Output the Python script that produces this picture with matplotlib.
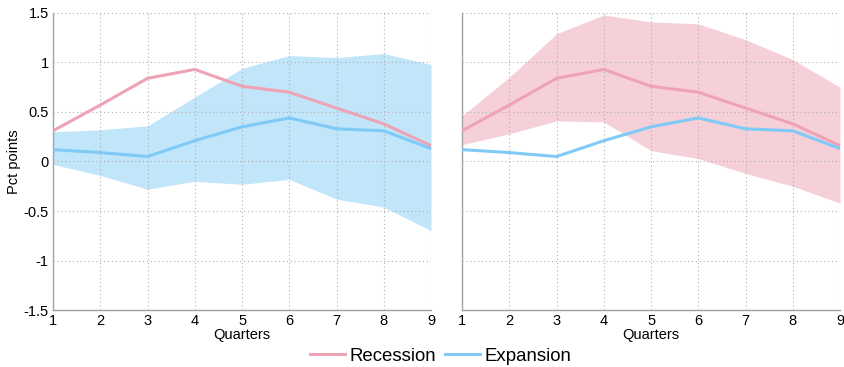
import matplotlib
matplotlib.use("Agg")
import matplotlib.pyplot as plt

plt.rcParams['font.family'] = ['Liberation Sans', 'DejaVu Sans']

quarters = [1, 2, 3, 4, 5, 6, 7, 8, 9]
recession = [0.31, 0.57, 0.84, 0.93, 0.76, 0.70, 0.54, 0.38, 0.16]
expansion = [0.12, 0.09, 0.05, 0.21, 0.35, 0.44, 0.33, 0.31, 0.13]
exp_upper = [0.30, 0.32, 0.36, 0.65, 0.94, 1.07, 1.05, 1.09, 0.98]
exp_lower = [-0.03, -0.14, -0.28, -0.20, -0.23, -0.18, -0.38, -0.46, -0.70]
rec_upper = [0.46, 0.85, 1.29, 1.48, 1.41, 1.39, 1.23, 1.03, 0.75]
rec_lower = [0.17, 0.28, 0.41, 0.40, 0.11, 0.03, -0.12, -0.25, -0.42]
yticks = [-1.5, -1, -0.5, 0, 0.5, 1, 1.5]
ytick_labels = ['-1.5', '-1', '-0.5', '0', '0.5', '1', '1.5']

rec_col = '#eea3b5'
exp_col = '#7fcaf6'
rec_band = '#f5d0d9'
exp_band = '#c1e5f9'

fig = plt.figure(figsize=(8.44, 3.67), dpi=100)
ax1 = fig.add_axes([0.0628, 0.1553, 0.4479, 0.8093])
ax2 = fig.add_axes([0.5474, 0.1553, 0.4479, 0.8093])

for ax, band in ((ax1, 'exp'), (ax2, 'rec')):
    if band == 'exp':
        ax.fill_between(quarters, exp_lower, exp_upper, color=exp_band, lw=0, zorder=1)
    else:
        ax.fill_between(quarters, rec_lower, rec_upper, color=rec_band, lw=0, zorder=1)
    ax.plot(quarters, recession, color=rec_col, lw=2.2, zorder=3, label='Recession')
    ax.plot(quarters, expansion, color=exp_col, lw=2.2, zorder=3, label='Expansion')
    ax.set_xlim(1, 9)
    ax.set_ylim(-1.5, 1.5)
    ax.set_xticks(quarters)
    ax.set_yticks(yticks)
    ax.grid(True, linestyle=(0, (1, 2.5)), color='#b0b0b0', lw=0.8, zorder=2)
    ax.set_axisbelow(False)
    for s in ('top', 'right'):
        ax.spines[s].set_visible(False)
    for s in ('left', 'bottom'):
        ax.spines[s].set_color('#a0a0a0')
        ax.spines[s].set_linewidth(1.0)
    ax.tick_params(length=0, labelsize=10.5, pad=3)
    ax.set_xlabel('Quarters', fontsize=10.5, labelpad=0)

ax1.set_yticklabels(ytick_labels)
ax1.set_ylabel('Pct points', fontsize=10.5, labelpad=2)
ax2.set_yticklabels([])

handles, labels = ax1.get_legend_handles_labels()
for h in handles:
    pass
fig.legend(handles, labels, loc='center', bbox_to_anchor=(0.522, 0.03), ncol=2,
           frameon=False, fontsize=13.4, handlelength=1.9, columnspacing=0.45,
           handletextpad=0.25, borderpad=0.0)

fig.savefig('out.png', dpi=100)
